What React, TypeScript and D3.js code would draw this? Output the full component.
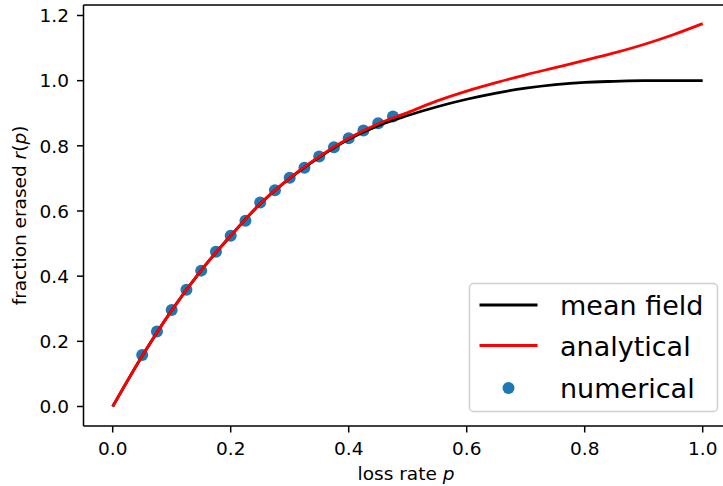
import React from "react";
import * as d3 from "d3";

const W = 723;
const H = 486;

const pGrid = [0, 0.05, 0.1, 0.15, 0.2, 0.25, 0.3, 0.35, 0.4, 0.45, 0.5, 0.55, 0.6, 0.65, 0.7, 0.75, 0.8, 0.85, 0.9, 0.95, 1.0];
const meanField = [0, 0.155, 0.295, 0.418, 0.524, 0.622, 0.700, 0.765, 0.820, 0.862, 0.893, 0.920, 0.943, 0.962, 0.977, 0.988, 0.995, 0.998, 1.0, 1.0, 1.0];
const analytical = [0, 0.155, 0.295, 0.418, 0.524, 0.622, 0.701, 0.767, 0.823, 0.868, 0.902, 0.938, 0.968, 0.994, 1.018, 1.040, 1.062, 1.085, 1.111, 1.141, 1.175];

const numP = [0.05, 0.075, 0.1, 0.125, 0.15, 0.175, 0.2, 0.225, 0.25, 0.275, 0.3, 0.325, 0.35, 0.375, 0.4, 0.425, 0.45, 0.475];
const numR = [0.158, 0.230, 0.296, 0.358, 0.417, 0.475, 0.524, 0.570, 0.626, 0.664, 0.702, 0.733, 0.767, 0.796, 0.823, 0.847, 0.869, 0.890];

const xTicks = [0, 0.2, 0.4, 0.6, 0.8, 1.0];
const yTicks = [0, 0.2, 0.4, 0.6, 0.8, 1.0, 1.2];

const legendItems = [
  { label: "mean field", kind: "line", color: "#000000" },
  { label: "analytical", kind: "line", color: "#ff0000" },
  { label: "numerical", kind: "dot", color: "#1f77b4" },
];

const FONT = "'DejaVu Sans', sans-serif";

export default function App() {
  const x = d3.scaleLinear().domain([-0.05, 1.05]).range([83.2, 732.2]);
  const y = d3.scaleLinear().domain([0, 1.2]).range([406.5, 15.5]);
  const left = 83.5, right = 760, top = 5, bottom = 426;

  const line = d3
    .line<[number, number]>()
    .x((d) => x(d[0]))
    .y((d) => y(d[1]))
    .curve(d3.curveMonotoneX);

  const mfPts = pGrid.map((p, i) => [p, meanField[i]] as [number, number]);
  const anPts = pGrid.map((p, i) => [p, analytical[i]] as [number, number]);

  const lx = 469.5, ly = 283.5, lw = 248, lh = 128;
  const rowY = [305, 345.5, 388];

  return (
    <svg width={W} height={H} style={{ position: "absolute", left: 0, top: 0, background: "#fff" }} fontFamily={FONT}>
      <rect x={0} y={0} width={W} height={H} fill="#fff" />
      <g>
        {numP.map((p, i) => (
          <circle key={i} cx={x(p)} cy={y(numR[i])} r={6} fill="#1f77b4" />
        ))}
        <path d={line(mfPts) || ""} fill="none" stroke="#000" strokeWidth={2.8} />
        <path d={line(anPts) || ""} fill="none" stroke="#ff0000" strokeWidth={2.8} />
      </g>
      <line x1={left} y1={top} x2={left} y2={bottom} stroke="#000" strokeWidth={1.5} />
      <line x1={left} y1={bottom} x2={right} y2={bottom} stroke="#000" strokeWidth={1.5} />
      <line x1={left} y1={top} x2={right} y2={top} stroke="#000" strokeWidth={1.5} />
      {xTicks.map((t) => (
        <g key={"x" + t}>
          <line x1={x(t)} x2={x(t)} y1={bottom} y2={bottom + 6.5} stroke="#000" strokeWidth={1.5} />
          <text x={x(t)} y={455} textAnchor="middle" fontSize={18.5} fill="#000">
            {t.toFixed(1)}
          </text>
        </g>
      ))}
      {yTicks.map((t) => (
        <g key={"y" + t}>
          <line x1={left - 6.5} x2={left} y1={y(t)} y2={y(t)} stroke="#000" strokeWidth={1.5} />
          <text x={69} y={y(t) + 6.7} textAnchor="end" fontSize={18.5} fill="#000">
            {t.toFixed(1)}
          </text>
        </g>
      ))}
      <text x={406} y={480} textAnchor="middle" fontSize={18.5} fill="#000">
        loss rate <tspan fontStyle="italic">p</tspan>
      </text>
      <text
        transform={`translate(25.5, 215.5) rotate(-90)`}
        textAnchor="middle"
        fontSize={18.5}
        fill="#000"
      >
        fraction erased <tspan fontStyle="italic">r</tspan>(<tspan fontStyle="italic">p</tspan>)
      </text>
      <rect x={lx} y={ly} width={lw} height={lh} rx={4} ry={4} fill="#fff" fillOpacity={0.8} stroke="#d0d0d0" strokeWidth={1.5} />
      {legendItems.map((it, i) => (
        <g key={it.label}>
          {it.kind === "line" ? (
            <line x1={479.5} x2={537.5} y1={rowY[i]} y2={rowY[i]} stroke={it.color} strokeWidth={2.8} />
          ) : (
            <circle cx={508.5} cy={rowY[i]} r={6} fill={it.color} />
          )}
          <text x={560} y={rowY[i] + 10} fontSize={27} fill="#000">
            {it.label}
          </text>
        </g>
      ))}
    </svg>
  );
}
